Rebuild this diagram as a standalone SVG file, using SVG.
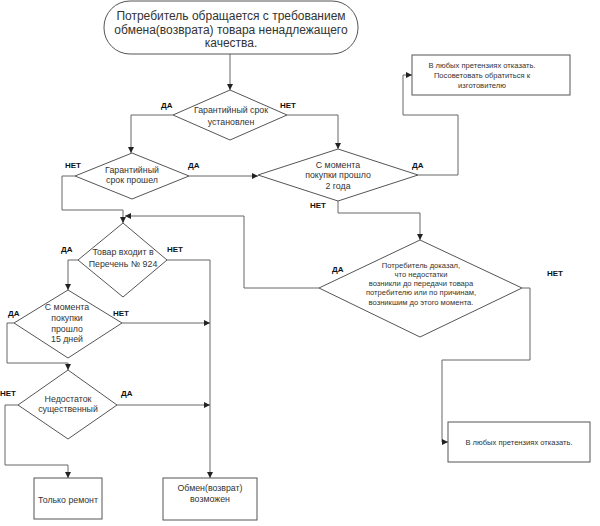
<svg xmlns="http://www.w3.org/2000/svg" width="600" height="526" viewBox="0 0 600 526">
<defs>
<marker id="arr" viewBox="0 0 10 10" refX="10" refY="5" markerWidth="6" markerHeight="6" orient="auto" markerUnits="userSpaceOnUse">
<path d="M0,0 L10,5 L0,10 z" fill="#222"/>
</marker>
<style>
.shape{fill:#fff;stroke:#555;stroke-width:1}
.con{fill:none;stroke:#666;stroke-width:1;marker-end:url(#arr)}
.t{font-family:"Liberation Sans",Arial,sans-serif;fill:#333;text-anchor:middle}
.big{font-size:12px}
.m{font-size:8.8px}
.s{font-size:7.6px}
.lbl{font-family:"Liberation Sans",Arial,sans-serif;font-size:8px;font-weight:bold;fill:#111}
</style>
</defs>
<rect width="600" height="526" fill="#fff"/>
<g id="connectors">
<path class="con" d="M230,54 L230,90"/>
<path class="con" d="M173,115 L131,115 L131,153"/>
<path class="con" d="M287,115 L338,115 L338,149"/>
<path class="con" d="M189,176 L258,176"/>
<path class="con" d="M418,175 L458,175 L458,115 L403,115 L403,75 L412,75"/>
<path class="con" d="M338,201 L338,213 L420,213 L420,240"/>
<path class="con" d="M75,176 L62,176 L62,210 L123,210 L123,223"/>
<path class="con" d="M319,288 L244,288 L244,216 L125,216"/>
<path class="con" d="M78,260 L68,260 L68,290"/>
<path class="con" d="M167,260 L210,260 L210,478"/>
<path class="con" d="M122,323 L210,323"/>
<path class="con" d="M14,323 L7,323 L7,363 L68,363 L68,370"/>
<path class="con" d="M117,405 L210,405"/>
<path class="con" d="M18,405 L5,405 L5,465 L68,465 L68,478"/>
<path class="con" d="M522,288 L530,288 L530,360 L442,360 L442,442 L448,442"/>
</g>
<g id="start">
<rect class="shape" x="104" y="1" width="254" height="53" rx="26" ry="26"/>
<text class="t big" x="231" y="20">Потребитель обращается с требованием</text>
<text class="t big" x="231" y="34">обмена(возврата) товара ненадлежащего</text>
<text class="t big" x="231" y="47">качества.</text>
</g>
<g id="d1">
<polygon class="shape" points="230,90 287,115 230,140 173,115"/>
<text class="t m" x="231" y="113">Гарантийный срок</text>
<text class="t m" x="231" y="125">установлен</text>
<text class="lbl" x="161" y="108">ДА</text>
<text class="lbl" x="280" y="108">НЕТ</text>
</g>
<g id="d2">
<polygon class="shape" points="132,153 189,176 132,199 75,176"/>
<text class="t m" x="132" y="173">Гарантийный</text>
<text class="t m" x="132" y="183">срок прошел</text>
<text class="lbl" x="65" y="168">НЕТ</text>
<text class="lbl" x="188" y="168">ДА</text>
</g>
<g id="d3">
<polygon class="shape" points="338,149 418,175 338,201 258,175"/>
<text class="t m" x="338" y="168">С момента</text>
<text class="t m" x="338" y="178">покупки прошло</text>
<text class="t m" x="338" y="189">2 года</text>
<text class="lbl" x="412" y="168">ДА</text>
<text class="lbl" x="310" y="208">НЕТ</text>
</g>
<g id="box-refuse-manufacturer">
<rect class="shape" x="412" y="55" width="158" height="40"/>
<text class="t s" x="482" y="68">В любых претензиях отказать.</text>
<text class="t s" x="482" y="78">Посоветовать обратиться к</text>
<text class="t s" x="482" y="88">изготовителю</text>
</g>
<g id="d4">
<polygon class="shape" points="123,223 167,260 123,297 78,260"/>
<text class="t m" x="123" y="255">Товар входит в</text>
<text class="t m" x="123" y="267">Перечень № 924</text>
<text class="lbl" x="61" y="252">ДА</text>
<text class="lbl" x="167" y="252">НЕТ</text>
</g>
<g id="d5">
<polygon class="shape" points="420,240 522,288 420,337 319,288"/>
<text class="t s" x="421" y="268">Потребитель доказал,</text>
<text class="t s" x="421" y="277">что недостатки</text>
<text class="t s" x="421" y="286">возникли до передачи товара</text>
<text class="t s" x="421" y="295">потребителю или по причинам,</text>
<text class="t s" x="421" y="305">возникшим до этого момента.</text>
<text class="lbl" x="332" y="272">ДА</text>
<text class="lbl" x="547" y="276">НЕТ</text>
</g>
<g id="d6">
<polygon class="shape" points="68,290 122,323 68,358 14,323"/>
<text class="t m" x="67" y="310">С момента</text>
<text class="t m" x="67" y="321">покупки</text>
<text class="t m" x="67" y="332">прошло</text>
<text class="t m" x="67" y="342">15 дней</text>
<text class="lbl" x="8" y="316">ДА</text>
<text class="lbl" x="113" y="316">НЕТ</text>
</g>
<g id="d7">
<polygon class="shape" points="68,370 117,405 68,439 18,405"/>
<text class="t m" x="68" y="402">Недостаток</text>
<text class="t m" x="68" y="412">существенный</text>
<text class="lbl" x="0" y="396">НЕТ</text>
<text class="lbl" x="121" y="396">ДА</text>
</g>
<g id="box-refuse">
<rect class="shape" x="448" y="422" width="142" height="40"/>
<text class="t s" x="519" y="445">В любых претензиях отказать.</text>
</g>
<g id="box-repair">
<rect class="shape" x="34" y="478" width="68" height="41"/>
<text class="t m" x="68" y="503">Только ремонт</text>
</g>
<g id="box-exchange">
<rect class="shape" x="163" y="478" width="94" height="42"/>
<text class="t m" x="210" y="491">Обмен(возврат)</text>
<text class="t m" x="210" y="502">возможен</text>
</g>
</svg>
